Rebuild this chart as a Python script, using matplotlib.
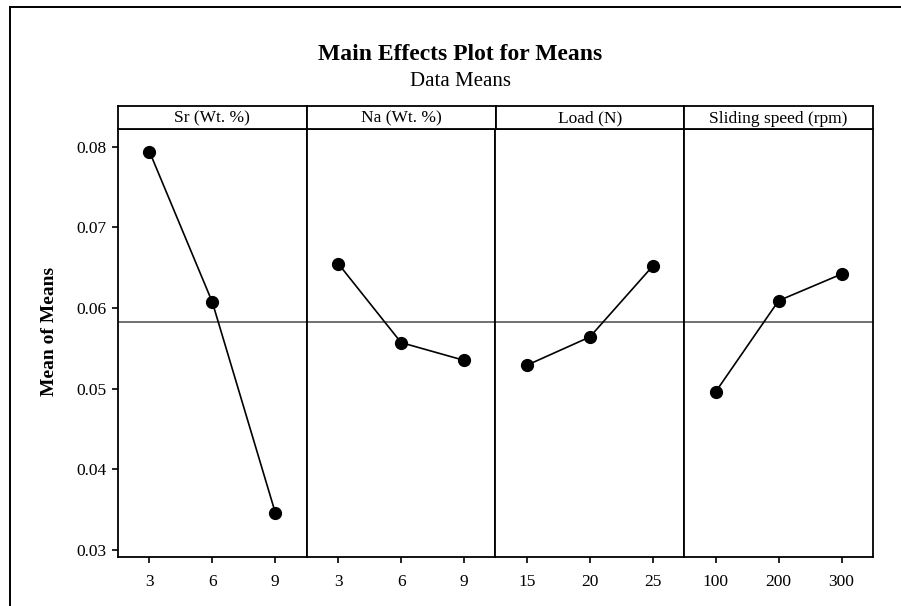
import matplotlib
matplotlib.use("Agg")
import matplotlib.pyplot as plt
from matplotlib.lines import Line2D

plt.rcParams['font.family'] = ['Liberation Serif', 'DejaVu Serif']

# factors, their levels and the mean response at each level
factors = ["Sr (Wt. %)", "Na (Wt. %)", "Load (N)", "Sliding speed (rpm)"]
levels = [["3", "6", "9"],
          ["3", "6", "9"],
          ["15", "20", "25"],
          ["100", "200", "300"]]
means = [[0.0794, 0.0607, 0.0346],
         [0.0655, 0.0557, 0.0535],
         [0.0529, 0.0564, 0.0652],
         [0.0496, 0.0609, 0.0642]]
grand_mean = 0.0582
yticks = [0.03, 0.04, 0.05, 0.06, 0.07, 0.08]

W, H = 901, 606
fig = plt.figure(figsize=(W / 100, H / 100), dpi=100)

# panel area in pixels
left, right, top, bottom = 118, 873, 129, 557
strip_h = 23

axes = fig.subplots(1, 4, sharey=True, gridspec_kw=dict(wspace=0))
fig.subplots_adjust(left=left / W, right=right / W, top=1 - top / H, bottom=1 - bottom / H)

pw = (right - left) / 4
for i, ax in enumerate(axes):
    x = range(len(levels[i]))
    ax.axhline(grand_mean, color="#4a4a4a", lw=1.1, zorder=1)
    ax.plot(x, means[i], color="black", lw=1.2, marker="o", markersize=8.5, zorder=3)
    ax.set_xlim(-0.5, 2.5)
    ax.set_xticks(list(x))
    ax.set_xticklabels(levels[i])
    ax.tick_params(axis="x", direction="out", length=4.5, width=1.2, pad=8, labelsize=12.5)
    for s in ax.spines.values():
        s.set_linewidth(1.3)
    if i == 0:
        ax.tick_params(axis="y", direction="out", length=4.5, width=1.2, pad=4, labelsize=12.5)
    else:
        ax.tick_params(axis="y", left=False, labelleft=False)

    # strip header above each panel
    sax = fig.add_axes([(left + i * pw) / W, 1 - top / H, pw / W, strip_h / H])
    sax.set_xticks([])
    sax.set_yticks([])
    for s in sax.spines.values():
        s.set_linewidth(1.3)
    sax.text(0.5, 0.45, factors[i], ha="center", va="center", fontsize=12.5,
             transform=sax.transAxes)

axes[0].set_ylim(0.0291, 0.0822)
axes[0].set_yticks(yticks)
axes[0].set_yticklabels(["%.2f" % v for v in yticks])

fig.text(50 / W, 1 - 331 / H, "Mean of Means", rotation=90, ha="center", va="center",
         fontsize=14, fontweight="bold")
fig.text(460 / W, 1 - 59.5 / H, "Main Effects Plot for Means", ha="center", va="baseline",
         fontsize=17, fontweight="bold")
fig.text(461 / W, 1 - 86 / H, "Data Means", ha="center", va="baseline", fontsize=15)

# outer frame of the graph window (runs off the right and bottom edge)
fig.add_artist(Line2D([10 / W, 1.0], [1 - 7.3 / H, 1 - 7.3 / H], color="black", lw=1.4,
                      transform=fig.transFigure))
fig.add_artist(Line2D([10 / W, 10 / W], [0, 1 - 7.3 / H], color="black", lw=1.4,
                      transform=fig.transFigure))

fig.savefig("out.png", dpi=100)
